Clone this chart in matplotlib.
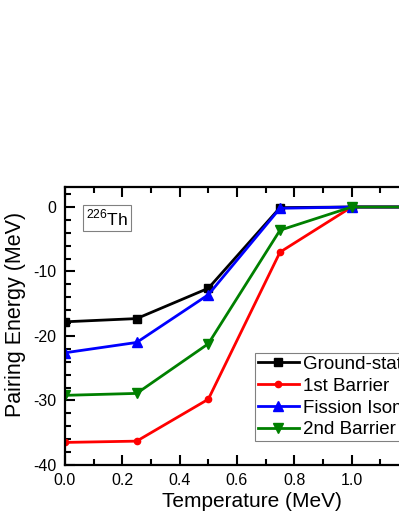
import matplotlib
matplotlib.use("Agg")
import matplotlib.pyplot as plt
from matplotlib.ticker import MultipleLocator, FormatStrFormatter

plt.rcParams['font.family'] = ['Liberation Sans', 'DejaVu Sans']
plt.rcParams['mathtext.fontset'] = 'custom'
plt.rcParams['mathtext.rm'] = 'Liberation Sans'
plt.rcParams['axes.unicode_minus'] = False

temperature = [0.0, 0.25, 0.5, 0.75, 1.0, 1.25]
ground_state = [-17.8, -17.3, -12.6, -0.1, 0.0, 0.0]
first_barrier = [-36.5, -36.3, -29.8, -7.0, 0.0, 0.0]
fission_isomer = [-22.6, -21.0, -13.6, -0.2, 0.0, 0.0]
second_barrier = [-29.2, -28.9, -21.2, -3.6, 0.0, 0.0]

series = [
    ("Ground-state", ground_state, "black", "s", 5.5),
    ("1st Barrier", first_barrier, "red", "o", 4.5),
    ("Fission Isomer", fission_isomer, "blue", "^", 7),
    ("2nd Barrier", second_barrier, "green", "v", 7),
]

fig = plt.figure(figsize=(3.99, 5.16), dpi=100)
ax = fig.add_axes([65 / 399, 1 - 465 / 516, 344 / 399, (465 - 187) / 516])

for label, vals, color, marker, ms in series:
    ax.plot(temperature, vals, color=color, marker=marker, markersize=ms,
            linewidth=2, label=label)

ax.set_xlim(0, 1.2)
ax.set_ylim(-40, 3.1)
ax.xaxis.set_major_locator(MultipleLocator(0.2))
ax.xaxis.set_minor_locator(MultipleLocator(0.1))
ax.yaxis.set_major_locator(MultipleLocator(10))
ax.yaxis.set_minor_locator(MultipleLocator(2))
ax.tick_params(which='both', direction='in', top=True, right=True, width=1.5,
               labelsize=11.5, pad=6)
ax.tick_params(which='major', length=7.5)
ax.tick_params(which='minor', length=4)
ax.xaxis.set_major_formatter(FormatStrFormatter('%.1f'))
for s in ax.spines.values():
    s.set_linewidth(1.6)

ax.set_xlabel("Temperature (MeV)", fontsize=15)
ax.xaxis.set_label_coords(0.543, -0.097)
ax.xaxis.label.set_va('top')
ax.set_ylabel("Pairing Energy (MeV)", fontsize=15.5)
ax.yaxis.set_label_coords(-0.113, 0.54)

ax.text(0.073, -1.7, r"$^{226}$Th", fontsize=12.5, ha='left', va='center',
        bbox=dict(boxstyle='square,pad=0.18', facecolor='white',
                  edgecolor='gray', linewidth=0.8))

leg = ax.legend(loc='upper left', bbox_to_anchor=(255 / 399, 1 - 353 / 516),
                bbox_transform=fig.transFigure, borderaxespad=0, fontsize=13.5,
                numpoints=1, handlelength=2.2, handletextpad=0.2,
                labelspacing=0.25, borderpad=0.15, fancybox=False,
                framealpha=1, edgecolor='gray')
leg.get_frame().set_linewidth(0.8)

fig.savefig("out.png", dpi=100)
